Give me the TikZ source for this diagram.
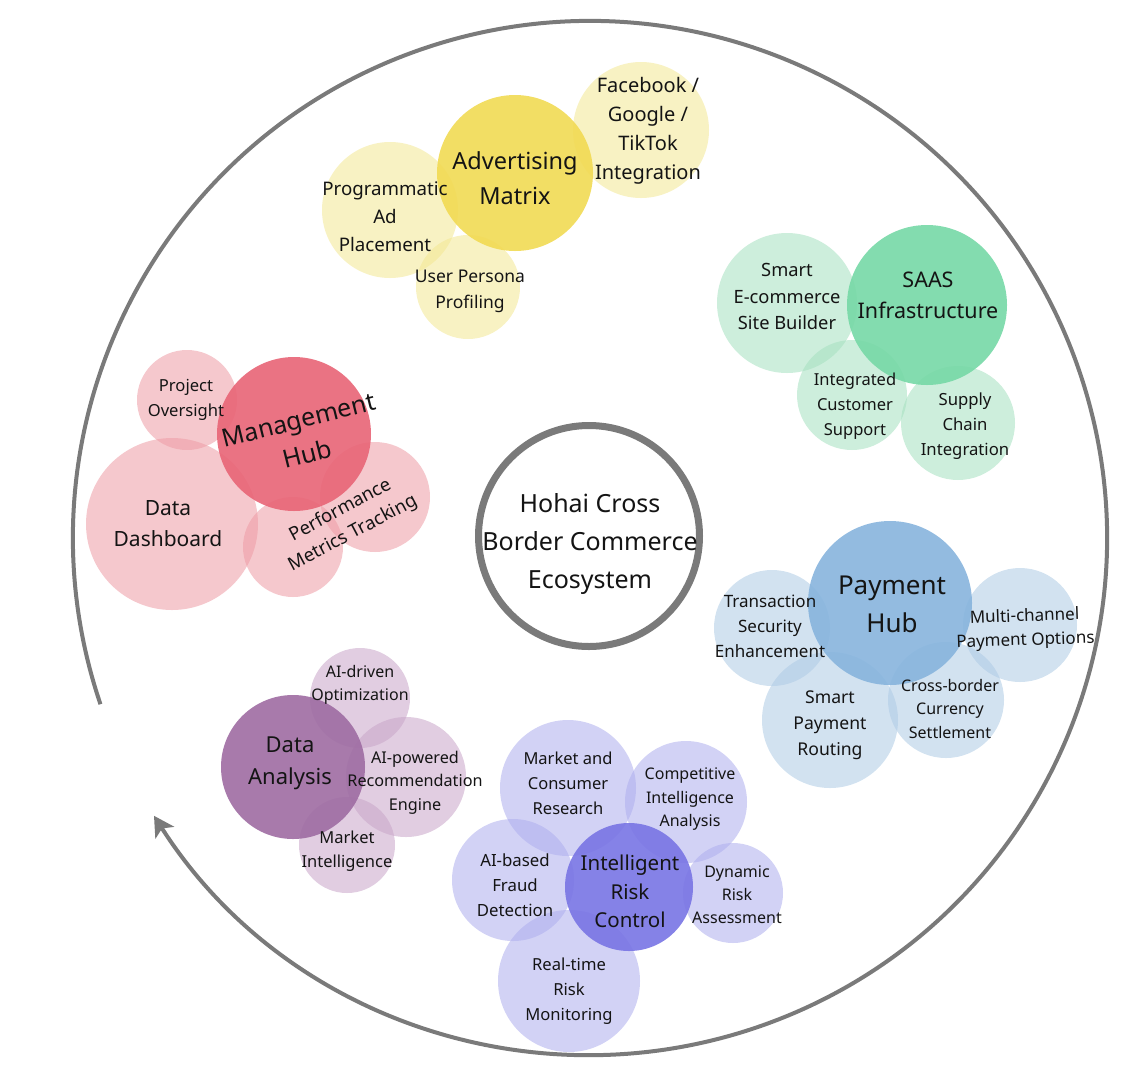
\documentclass[tikz,border=0pt]{standalone}
\usepackage{fontspec}
\setmainfont{Noto Sans}
\usetikzlibrary{arrows.meta}
\definecolor{ink}{HTML}{141414}
\definecolor{ringgray}{RGB}{122,122,122}
\definecolor{ysub}{RGB}{242,231,146}
\definecolor{ymain}{RGB}{241,218,83}
\definecolor{gsub}{RGB}{164,224,191}
\definecolor{gmain}{RGB}{118,216,166}
\definecolor{rsub}{RGB}{237,155,164}
\definecolor{rmain}{RGB}{232,100,118}
\definecolor{bsub}{RGB}{173,202,228}
\definecolor{bmain}{RGB}{135,180,221}
\definecolor{psub}{RGB}{200,164,200}
\definecolor{pmain}{RGB}{158,108,162}
\definecolor{vsub}{RGB}{173,173,237}
\definecolor{vmain}{RGB}{120,116,228}
\begin{document}
\begin{tikzpicture}[x=1pt,y=-1pt,
  bubs/.style={circle, draw=none, inner sep=0pt, minimum size=#1, fill opacity=0.55},
  mainb/.style={circle, draw=none, inner sep=0pt, minimum size=#1, fill opacity=0.9},
  lbl/.style={align=center, text=ink, inner sep=0pt},
  fs/.style 2 args={font=\fontsize{#1}{#2}\selectfont},
  ringline/.style={draw=ringgray, line width=4pt, -{Stealth[length=20pt,width=22pt,inset=5pt]}}
]
\useasboundingbox (0,0) rectangle (1132,1080);

% outer ring
\coordinate (ringstart) at ([shift={(590,538)}]161.25:517);
\draw[ringline] (ringstart) arc[start angle=161.25, end angle=507.5, radius=517];

% ---------- Advertising (yellow)
\node[bubs=136pt, fill=ysub] (fb) at (641,130) {};
\node[bubs=136pt, fill=ysub] (prog) at (390,210) {};
\node[bubs=104pt, fill=ysub] (user) at (468,287) {};
\node[mainb=156pt, fill=ymain] (adv) at (515,173) {};

% ---------- SAAS (green)
\node[bubs=140pt, fill=gsub] (smart) at (787,303) {};
\node[bubs=110pt, fill=gsub] (integ) at (852,395) {};
\node[bubs=114pt, fill=gsub] (supply) at (958,423) {};
\node[mainb=160pt, fill=gmain] (saas) at (927,305) {};

% ---------- Management (red)
\node[bubs=100pt, fill=rsub] (proj) at (187,400) {};
\node[bubs=172pt, fill=rsub] (dash) at (172,524) {};
\node[bubs=100pt, fill=rsub] (perfa) at (293,547) {};
\node[bubs=110pt, fill=rsub] (perfb) at (375,497) {};
\node[mainb=154pt, fill=rmain] (mgmt) at (294,434) {};

% ---------- Payment (blue)
\node[bubs=116pt, fill=bsub] (trans) at (772,628) {};
\node[bubs=114pt, fill=bsub] (multi) at (1020,625) {};
\node[bubs=136pt, fill=bsub] (route) at (830,720) {};
\node[bubs=116pt, fill=bsub] (cross) at (946,700) {};
\node[mainb=164pt, fill=bmain] (pay) at (890,603) {};

% ---------- Data Analysis (purple)
\node[bubs=100pt, fill=psub] (aid) at (360,698) {};
\node[bubs=120pt, fill=psub] (aip) at (406,777) {};
\node[bubs=96pt, fill=psub] (mi) at (347,845) {};
\node[mainb=144pt, fill=pmain] (da) at (293,767) {};

% ---------- Risk Control (violet)
\node[bubs=136pt, fill=vsub] (mcr) at (568,788) {};
\node[bubs=122pt, fill=vsub] (comp) at (686,802) {};
\node[bubs=122pt, fill=vsub] (fraud) at (513,880) {};
\node[bubs=100pt, fill=vsub] (dyn) at (733,893) {};
\node[bubs=142pt, fill=vsub] (rt) at (569,981) {};
\node[mainb=128pt, fill=vmain] (irc) at (629,887) {};

% ---------- centre
\node[circle, draw=ringgray, line width=7pt, minimum size=221pt, inner sep=0pt, fill=white] (eco) at (589,536) {};

% ---------- labels
\node[lbl, fs={25}{38}] (eco-t) at (590,544) {Hohai Cross\\Border Commerce\\Ecosystem};

\node[lbl, fs={20}{29}] (fb-t) at (648,131) {Facebook /\\Google /\\TikTok\\Integration};
\node[lbl, fs={18.7}{28}] (prog-t) at (385,217) {Programmatic\\Ad\\Placement};
\node[lbl, fs={17.5}{26}] (user-t) at (470,291) {User Persona\\Profiling};
\node[lbl, fs={23.5}{35}] (adv-t) at (515,178.5) {Advertising\\Matrix};

\node[lbl, fs={18.3}{26.5}] (smart-t) at (787,296.5) {Smart\\E-commerce\\Site Builder};
\node[lbl, fs={21.5}{31}] (saas-t) at (928,295.5) {SAAS\\Infrastructure};
\node[lbl, fs={16.5}{25}] (integ-t) at (855,406) {Integrated\\Customer\\Support};
\node[lbl, fs={16.7}{25}] (supply-t) at (965,426) {Supply\\Chain\\Integration};

\node[lbl, fs={16.6}{25}] (proj-t) at (186,399.5) {Project\\Oversight};
\node[lbl, fs={21}{31}] (dash-t) at (168,523.5) {Data\\Dashboard};
\node[lbl, fs={25}{35}, rotate=14] (mgmt-t) at (303,437) {Management\\Hub};
\node[lbl, fs={18.5}{26}, rotate=28] (perf-t) at (347,522) {Performance\\Metrics Tracking};

\node[lbl, fs={26}{38}] (pay-t) at (892,604) {Payment\\Hub};
\node[lbl, fs={17}{25}] (trans-t) at (770,626) {Transaction\\Security\\Enhancement};
\node[lbl, fs={17}{24}, rotate=2] (multi-t) at (1025,629) {Multi-channel\\Payment Options};
\node[lbl, fs={17.6}{26}] (route-t) at (830,725) {Smart\\Payment\\Routing};
\node[lbl, fs={16}{23.5}] (cross-t) at (950,708.5) {Cross-border\\Currency\\Settlement};

\node[lbl, fs={22}{32}] (da-t) at (290,763.6) {Data\\Analysis};
\node[lbl, fs={16}{23}] (aid-t) at (360,684.5) {AI-driven\\Optimization};
\node[lbl, fs={16.2}{23.5}] (aip-t) at (415,782.5) {AI-powered\\Recommendation\\Engine};
\node[lbl, fs={16.5}{24}] (mi-t) at (347,851) {Market\\Intelligence};

\node[lbl, fs={20.5}{28.5}] (irc-t) at (630,891.5) {Intelligent\\Risk\\Control};
\node[lbl, fs={16.5}{25}] (mcr-t) at (568,783) {Market and\\Consumer\\Research};
\node[lbl, fs={16}{23.5}] (comp-t) at (690,799.5) {Competitive\\Intelligence\\Analysis};
\node[lbl, fs={16.8}{25}] (fraud-t) at (515,885) {AI-based\\Fraud\\Detection};
\node[lbl, fs={16}{23}] (dyn-t) at (737,895) {Dynamic\\Risk\\Assessment};
\node[lbl, fs={16.6}{25}] (rt-t) at (569,991) {Real-time\\Risk\\Monitoring};
\end{tikzpicture}
\end{document}
